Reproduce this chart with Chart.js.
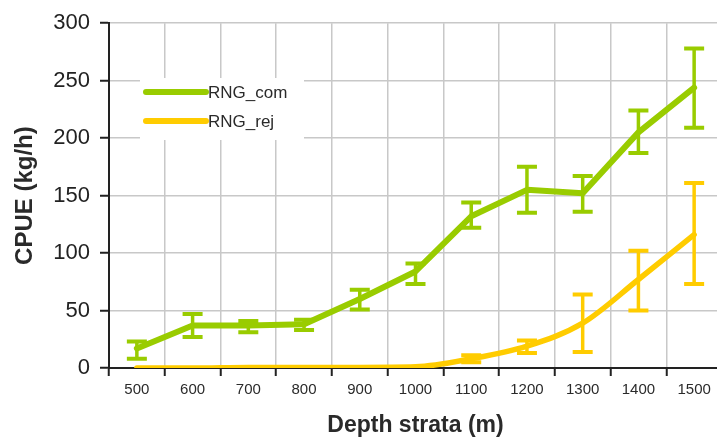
<!DOCTYPE html>
<html>
<head>
<meta charset="utf-8">
<script src="https://cdn.jsdelivr.net/npm/chart.js@4.4.1/dist/chart.umd.min.js"></script>
<style>
html,body{margin:0;padding:0;background:#fff;overflow:hidden;width:717px;height:448px;}
#wrap{width:722px;height:448px;position:relative;}
</style>
</head>
<body>
<div id="wrap"><canvas id="c" width="722" height="448"></canvas></div>
<script>
const categories = ['500','600','700','800','900','1000','1100','1200','1300','1400','1500'];
const comValues = [17, 37, 37, 38, 60, 84, 132, 155, 152, 205, 244];
const comLower  = [8, 27, 31, 33, 51, 73, 122, 135, 136, 187, 209];
const comUpper  = [23, 47, 41, 42, 68, 91, 144, 175, 167, 224, 278];
const rejValues = [0, 0, 0.5, 0.5, 0.5, 1, 8, 19, 39, 77, 116];
const rejLower  = [0, 0, 0.5, 0.5, 0.5, 1, 5, 13, 14, 50, 73];
const rejUpper  = [0, 0, 0.5, 0.5, 0.5, 1, 11, 24, 64, 102, 161];
const yTicks = [0, 50, 100, 150, 200, 250, 300];

const GREEN = '#99cc00';
const ORANGE = '#ffcc00';

const errorBars = {
  id: 'errorBars',
  afterDatasetsDraw(chart) {
    const ctx = chart.ctx;
    const y = chart.scales.y;
    chart.data.datasets.forEach((ds, di) => {
      const meta = chart.getDatasetMeta(di);
      ctx.save();
      ctx.strokeStyle = ds.borderColor;
      ctx.lineCap = 'butt';
      meta.data.forEach((pt, i) => {
        const lo = ds.lower[i], hi = ds.upper[i];
        if (hi - lo < 0.01) return;
        const x = pt.x;
        const yl = y.getPixelForValue(lo), yh = y.getPixelForValue(hi);
        ctx.lineWidth = 3.5;
        ctx.beginPath();
        ctx.moveTo(x, yl); ctx.lineTo(x, yh);
        ctx.stroke();
        ctx.lineWidth = 4;
        ctx.beginPath();
        ctx.moveTo(x - 10, yl); ctx.lineTo(x + 10, yl);
        ctx.moveTo(x - 10, yh); ctx.lineTo(x + 10, yh);
        ctx.stroke();
      });
      ctx.restore();
    });
  }
};

const insideLegend = {
  id: 'insideLegend',
  beforeDatasetsDraw(chart) {
    const ctx = chart.ctx;
    ctx.save();
    ctx.fillStyle = '#ffffff';
    ctx.fillRect(140, 78, 164, 62);
    chart.data.datasets.forEach((ds, i) => {
      const yy = 92 + i * 29;
      ctx.strokeStyle = ds.borderColor;
      ctx.lineWidth = 6;
      ctx.lineCap = 'round';
      ctx.beginPath();
      ctx.moveTo(146, yy); ctx.lineTo(206, yy);
      ctx.stroke();
      ctx.fillStyle = '#2a2a2a';
      ctx.font = '17px "Liberation Sans", Arial, sans-serif';
      ctx.textBaseline = 'middle';
      ctx.textAlign = 'left';
      ctx.fillText(ds.label, 208, yy + 1);
    });
    ctx.restore();
  }
};

new Chart(document.getElementById('c'), {
  type: 'line',
  data: {
    labels: categories,
    datasets: [
      { label: 'RNG_com', data: comValues, lower: comLower, upper: comUpper,
        borderColor: GREEN, backgroundColor: GREEN, borderWidth: 6,
        pointRadius: 0, tension: 0, borderJoinStyle: 'round', borderCapStyle: 'round' },
      { label: 'RNG_rej', data: rejValues, lower: rejLower, upper: rejUpper,
        borderColor: ORANGE, backgroundColor: ORANGE, borderWidth: 5.5,
        pointRadius: 0, cubicInterpolationMode: 'monotone', borderCapStyle: 'round' }
    ]
  },
  options: {
    responsive: false,
    animation: false,
    devicePixelRatio: 1,
    layout: { padding: { top: 21, left: 0, right: 0, bottom: 0 } },
    plugins: { legend: { display: false }, tooltip: { enabled: false } },
    scales: {
      x: {
        offset: true,
        grid: { color: '#c8c8c8', lineWidth: 1.5, offset: true, tickColor: '#222', tickLength: 8, tickWidth: 2 },
        border: { color: '#222', width: 2 },
        ticks: { color: '#2a2a2a', font: { family: '"Liberation Sans", Arial, sans-serif', size: 15 }, padding: 5, maxRotation: 0 },
        title: { display: true, text: 'Depth strata (m)', color: '#2a2a2a',
          font: { family: '"Liberation Sans", Arial, sans-serif', size: 23, weight: 'bold' }, padding: { top: 0, bottom: 9 } },
        afterFit(s) { s.height = 80; }
      },
      y: {
        min: 0, max: 300,
        afterBuildTicks(s) { s.ticks = yTicks.map(v => ({ value: v })); },
        grid: { color: '#c8c8c8', lineWidth: 1.5, tickColor: '#222', tickLength: 9, tickWidth: 2 },
        border: { color: '#222', width: 2 },
        ticks: { color: '#222', font: { family: '"Liberation Sans", Arial, sans-serif', size: 22 }, padding: 10 },
        title: { display: true, text: 'CPUE (kg/h)', color: '#2a2a2a',
          font: { family: '"Liberation Sans", Arial, sans-serif', size: 24, weight: 'bold' }, padding: { top: 11, bottom: 0 } },
        afterFit(s) { s.width = 109; }
      }
    }
  },
  plugins: [insideLegend, errorBars]
});
</script>
</body>
</html>
